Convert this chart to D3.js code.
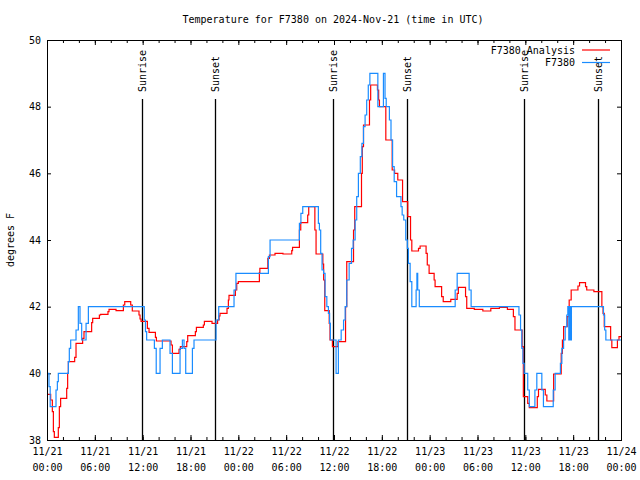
<!DOCTYPE html>
<html>
<head>
<meta charset="utf-8">
<script src="https://cdn.jsdelivr.net/npm/d3@7"></script>
<style>
  body { margin: 0; background: #fff; }
  svg text { font-family: "DejaVu Sans Mono", monospace; font-size: 10px; fill: #000; }
</style>
</head>
<body>
<div id="chart-area"></div>
<script>
// hours after 2024-11-21 00:00 UTC, and temperature (degrees F)
var redHours = [0,0.46,0.67,0.8,0.92,1.42,1.55,1.71,2.47,2.59,2.68,3.47,3.64,4.47,4.64,5.6,5.73,6.57,6.73,7.65,7.78,8.66,9.58,9.75,10.5,10.7,11.54,11.67,11.8,12.59,12.8,13.6,13.72,15.56,15.73,16.56,16.73,17.53,17.65,18.61,18.74,19.61,19.74,20.7,21.4,21.58,21.7,22.58,22.75,22.83,23.63,23.8,24.0,26.64,26.7,27.7,27.9,28.6,29.6,30.7,30.8,31.66,31.83,32.7,32.83,33.6,33.75,34.6,34.7,34.84,35.4,35.5,35.8,36.5,37.45,37.6,38.45,38.6,39.45,39.55,39.7,40.45,40.6,41.45,41.6,41.7,42.5,43.3,43.6,44.0,44.6,45.25,45.6,45.76,46.6,46.8,47.55,47.7,47.93,48.56,48.68,49.5,49.7,50.65,51.45,51.6,52.5,52.65,53.6,54.67,55.67,56.75,57.75,58.5,58.7,59.6,59.75,60.3,60.5,61.5,61.65,62.5,62.7,63.55,64.5,64.65,64.8,65.25,65.5,65.75,66.6,66.8,67.55,67.7,68.6,69.6,69.75,69.9,70.7,70.85,71.55,71.75,72];
var redTemps = [39.37,39.2,38.85,38.25,38.08,38.37,39.0,39.25,39.55,40.0,40.35,40.48,40.9,41.05,41.25,41.52,41.65,41.75,41.77,41.85,41.92,41.88,42.05,42.15,42.05,41.87,41.75,41.63,41.56,41.35,41.23,41.08,40.97,40.85,40.6,40.72,40.8,40.95,41.13,41.25,41.38,41.45,41.56,41.5,41.6,41.72,41.8,41.95,42.2,42.34,42.5,42.7,42.75,43.02,43.15,43.45,43.55,43.6,43.58,43.68,43.78,44.3,44.52,44.75,45.0,44.3,43.58,43.28,42.8,41.88,41.5,41.0,40.8,40.95,42.0,43.35,44.3,45.0,46.0,46.8,47.45,48.2,48.65,48.5,48.2,48.0,47.0,46.1,46.0,45.8,45.15,44.7,44.0,43.67,43.75,43.82,43.6,43.25,43.0,42.8,42.6,42.3,42.15,42.22,42.4,42.58,42.3,41.95,41.92,41.87,41.95,41.98,41.92,41.7,41.3,40.8,39.3,39.1,38.97,39.3,39.52,39.35,39.17,39.98,40.6,41.0,41.4,41.7,42.2,42.5,42.62,42.72,42.6,42.5,42.45,42.0,41.8,41.4,41.0,40.77,41.0,41.1,41.1];

var blueHours = [0,0.25,0.4,1.13,1.3,1.42,2.68,2.8,2.97,3.64,3.93,4.14,4.35,4.9,5.19,12.2,12.35,12.5,13.47,13.7,14.18,14.47,15.43,15.73,16.69,16.98,17.19,17.4,18.24,18.44,21.2,21.54,23.46,23.7,27.77,27.98,31.66,31.85,32.08,34.04,34.17,34.33,34.5,34.7,34.88,35.1,35.3,35.45,35.55,36.26,36.55,36.9,37.2,37.4,37.6,37.9,38.2,38.4,38.65,38.85,39.06,39.3,39.5,39.7,39.9,40.1,40.3,40.5,41.5,42.2,42.4,42.55,42.95,43.15,43.35,43.55,43.85,44.4,44.55,44.75,45.0,45.2,45.33,45.55,45.76,46.3,46.4,46.5,46.7,51.2,51.45,52.95,53.2,59.2,59.4,59.56,59.7,59.85,60.3,60.5,61.2,61.44,62.07,62.27,63.5,63.74,64.4,64.58,64.8,65.0,65.2,65.33,65.45,65.55,65.68,65.78,69.8,69.95,70.1,72];
var blueTemps = [40.0,39.6,39.0,39.5,39.75,40.0,40.35,40.75,41.0,41.3,42.0,41.5,41.0,41.5,42.0,41.6,41.25,41.0,40.75,40.0,40.75,41.0,40.6,40.0,40.75,41.0,40.75,40.0,40.75,41.0,41.6,42.0,42.5,43.0,43.5,44.0,44.5,44.8,45.0,44.5,44.3,43.6,43.1,43.0,42.3,42.0,41.8,41.5,41.0,40.0,41.0,41.3,41.6,42.0,42.8,43.3,43.75,44.0,44.6,45.3,46.0,46.5,46.9,47.4,47.75,48.2,48.65,49.0,48.0,49.0,48.25,48.0,47.6,47.0,46.2,45.75,45.3,45.0,44.75,44.6,44.0,43.75,43.3,42.75,42.0,42.5,43.0,42.5,42.0,42.5,43.0,42.5,42.0,41.75,41.3,40.75,40.3,40.0,39.5,39.0,39.5,40.0,39.5,39.0,39.5,40.0,40.3,40.75,41.0,41.4,41.75,42.0,41.0,42.0,41.0,42.0,41.75,41.3,41.0,41.0];

var sunTimes = ["2024-11-21T11:52Z","2024-11-21T21:08Z","2024-11-22T11:49Z","2024-11-22T21:10Z","2024-11-23T11:53Z","2024-11-23T21:09Z"];
var sunLabels = ["Sunrise","Sunset","Sunrise","Sunset","Sunrise","Sunset"];
var yTicks = [38, 40, 42, 44, 46, 48, 50];
var seriesNames = ["F7380 Analysis", "F7380"];

var start = new Date("2024-11-21T00:00:00Z");
var end = new Date("2024-11-24T00:00:00Z");
function toDate(h) { return new Date(start.getTime() + h * 3600e3); }

var redData = redHours.map(function(h, i) { return {t: toDate(h), v: redTemps[i]}; });
var blueData = blueHours.map(function(h, i) { return {t: toDate(h), v: blueTemps[i]}; });

var W = 640, H = 480;
var plotL = 47, plotR = 621, plotT = 40, plotB = 440;

var svg = d3.select("#chart-area").append("svg")
    .attr("width", W)
    .attr("height", H);

var x = d3.scaleUtc().domain([start, end]).range([plotL, plotR]);
var y = d3.scaleLinear().domain([38, 50]).range([plotB, plotT]);

// minor ticks every 2 hours, top and bottom
svg.append("g")
    .attr("transform", "translate(0," + plotB + ")")
    .call(d3.axisBottom(x).ticks(d3.utcHour.every(2)).tickSize(-3).tickSizeOuter(0).tickFormat(""));
svg.append("g")
    .attr("transform", "translate(0," + plotT + ")")
    .call(d3.axisTop(x).ticks(d3.utcHour.every(2)).tickSize(-3).tickSizeOuter(0).tickFormat(""));

// major ticks every 6 hours
var fmtDay = d3.utcFormat("%m/%d"), fmtHour = d3.utcFormat("%H:%M");
var xAxis = svg.append("g")
    .attr("transform", "translate(0," + plotB + ")")
    .call(d3.axisBottom(x).ticks(d3.utcHour.every(6)).tickSize(-5).tickSizeOuter(0).tickPadding(8).tickFormat(""));
xAxis.selectAll(".tick text").each(function(d) {
    var t = d3.select(this);
    t.append("tspan").attr("x", 0).attr("dy", "0.71em").text(fmtDay(d));
    t.append("tspan").attr("x", 0).attr("dy", "1.6em").text(fmtHour(d));
});
svg.append("g")
    .attr("transform", "translate(0," + plotT + ")")
    .call(d3.axisTop(x).ticks(d3.utcHour.every(6)).tickSize(-5).tickSizeOuter(0).tickFormat(""));

svg.append("g")
    .attr("transform", "translate(" + plotL + ",0)")
    .call(d3.axisLeft(y).tickValues(yTicks).tickSize(-4).tickSizeOuter(0).tickPadding(6).tickFormat(d3.format("d")));
svg.append("g")
    .attr("transform", "translate(" + plotR + ",0)")
    .call(d3.axisRight(y).tickValues(yTicks).tickSize(-4).tickSizeOuter(0).tickFormat(""));

svg.selectAll(".domain").remove();
svg.selectAll(".tick line").attr("stroke", "#000");
svg.selectAll(".tick text").attr("font-family", null).attr("font-size", null).attr("fill", "#000");

// sunrise / sunset markers
var sun = svg.append("g");
sunTimes.forEach(function(s, i) {
    var sx = Math.round(x(new Date(s))) + 0.5;
    sun.append("line")
        .attr("x1", sx).attr("x2", sx)
        .attr("y1", 99).attr("y2", plotB)
        .attr("stroke", "#000").attr("stroke-width", 1.3);
    sun.append("text")
        .attr("transform", "translate(" + (sx + 3.5) + ",92) rotate(-90)")
        .text(sunLabels[i]);
});

var line = d3.line()
    .curve(d3.curveStepAfter)
    .x(function(d) { return x(d.t); })
    .y(function(d) { return y(d.v); });

svg.append("path")
    .datum(redData)
    .attr("fill", "none")
    .attr("stroke", "#ff0000")
    .attr("stroke-width", 1.2)
    .attr("d", line);

svg.append("path")
    .datum(blueData)
    .attr("fill", "none")
    .attr("stroke", "#1a8cff")
    .attr("stroke-width", 1.2)
    .attr("d", line);

// frame
svg.append("rect")
    .attr("x", plotL + 0.5).attr("y", plotT + 0.5)
    .attr("width", plotR - plotL).attr("height", plotB - plotT)
    .attr("fill", "none").attr("stroke", "#000");

// title and axis label
svg.append("text")
    .attr("x", 333).attr("y", 23)
    .attr("text-anchor", "middle")
    .text("Temperature for F7380 on 2024-Nov-21 (time in UTC)");

svg.append("text")
    .attr("transform", "translate(14,240) rotate(-90)")
    .attr("text-anchor", "middle")
    .text("degrees F");

// legend
var legendColors = ["#ff0000", "#1a8cff"];
seriesNames.forEach(function(name, i) {
    var ly = 50 + i * 12.5;
    svg.append("text")
        .attr("x", 575).attr("y", ly + 3.5)
        .attr("text-anchor", "end")
        .text(name);
    svg.append("line")
        .attr("x1", 582).attr("x2", 610)
        .attr("y1", ly).attr("y2", ly)
        .attr("stroke", legendColors[i]).attr("stroke-width", 1.2);
});
</script>
</body>
</html>
